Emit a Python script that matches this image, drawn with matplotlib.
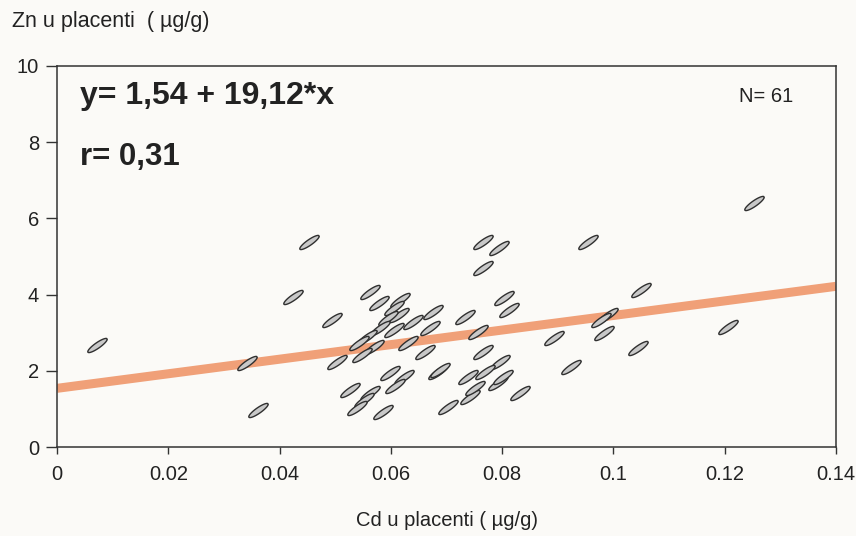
import numpy as np
import matplotlib
matplotlib.use("Agg")
import matplotlib.pyplot as plt

plt.rcParams['font.family'] = ['Liberation Sans', 'DejaVu Sans']

# Data
cd = [0.0072, 0.0342, 0.0362, 0.0425, 0.0453, 0.0495, 0.0504,
      0.0563, 0.0617, 0.0605, 0.0614, 0.0594, 0.0675, 0.0581, 0.0605,
      0.0558, 0.0671, 0.0542, 0.0569, 0.0630, 0.0662,
      0.0599, 0.0623, 0.0684, 0.0527, 0.0563, 0.0551, 0.0540, 0.0585, 0.0702,
      0.0765, 0.0794, 0.0765, 0.0734, 0.0803, 0.0812, 0.0756, 0.0689,
      0.0765, 0.0797, 0.0738, 0.0792, 0.0801, 0.0743, 0.0833,
      0.0893, 0.0923, 0.0954, 0.0990, 0.0983, 0.1044, 0.1049, 0.1206, 0.1252,
      0.0608, 0.0752, 0.0639, 0.0578, 0.0977, 0.0549, 0.0770]
zn = [2.68, 2.20, 0.97, 3.94, 5.38, 3.33, 2.23,
      4.07, 3.86, 3.65, 3.46, 3.39, 3.54, 3.12, 3.07,
      2.89, 3.12, 2.73, 2.62, 2.73, 2.49,
      1.94, 1.84, 1.97, 1.50, 1.42, 1.23, 1.02, 0.92, 1.05,
      5.38, 5.22, 4.70, 3.41, 3.91, 3.60, 3.02, 2.02,
      2.49, 2.23, 1.84, 1.68, 1.84, 1.31, 1.42,
      2.86, 2.10, 5.38, 3.46, 2.99, 2.60, 4.12, 3.15, 6.40,
      1.60, 1.55, 3.28, 3.78, 3.33, 2.41, 1.97]
intercept = 1.54
slope = 19.12
x_ticks = [0, 0.02, 0.04, 0.06, 0.08, 0.1, 0.12, 0.14]
x_tick_labels = ["0", "0.02", "0.04", "0.06", "0.08", "0.1", "0.12", "0.14"]
y_ticks = [0, 2, 4, 6, 8, 10]

bg = '#fbfaf7'
fig = plt.figure(figsize=(8.56, 5.36), dpi=100, facecolor=bg)
ax = fig.add_axes([0.0666, 0.166, 0.9100, 0.711], facecolor=bg)

# regression line
xl = np.array([0.0, 0.14])
ax.plot(xl, intercept + slope * xl, color='#f0a078', lw=6.5,
        solid_capstyle='butt', zorder=2)

# elongated tilted marker
t = np.linspace(0, 2 * np.pi, 40)
a, b = 1.0, 0.24
ang = np.deg2rad(35)
ex = a * np.cos(t)
ey = b * np.sin(t)
verts = list(zip(ex * np.cos(ang) - ey * np.sin(ang),
                 ex * np.sin(ang) + ey * np.cos(ang)))
ax.plot(cd, zn, linestyle='none', marker=verts, markersize=14,
        markerfacecolor='#c8c8c8', markeredgecolor='#303030',
        markeredgewidth=1.0, zorder=3)

ax.set_xlim(0, 0.14)
ax.set_ylim(0, 10)
ax.set_xticks(x_ticks)
ax.set_xticklabels(x_tick_labels)
ax.set_yticks(y_ticks)
for s in ax.spines.values():
    s.set_color('#333333')
    s.set_linewidth(1.1)
ax.tick_params(axis='y', direction='out', length=8, width=1, colors='#333333',
               labelsize=14.5, pad=5)
ax.tick_params(axis='x', direction='out', length=5, width=1, colors='#333333',
               labelsize=14.5, pad=8)
for lab in ax.get_xticklabels() + ax.get_yticklabels():
    lab.set_color('#222222')

ax.text(0.03, 0.92, "y= 1,54 + 19,12*x", transform=ax.transAxes,
        fontsize=23, fontweight='bold', color='#222222', va='center', ha='left')
ax.text(0.03, 0.76, "r= 0,31", transform=ax.transAxes,
        fontsize=22.5, fontweight='bold', color='#222222', va='center', ha='left')
ax.text(0.9105, 0.92, "N= 61", transform=ax.transAxes,
        fontsize=14.5, color='#222222', va='center', ha='center')

fig.text(12 / 856, 1 - 22 / 536, "Zn u placenti  ( \u00b5g/g)", fontsize=15.5,
         color='#222222', va='center', ha='left')
fig.text(447 / 856, 1 - 520 / 536, "Cd u placenti ( \u00b5g/g)", fontsize=14.5,
         color='#222222', va='center', ha='center')

fig.savefig("out.png", dpi=100, facecolor=bg)
